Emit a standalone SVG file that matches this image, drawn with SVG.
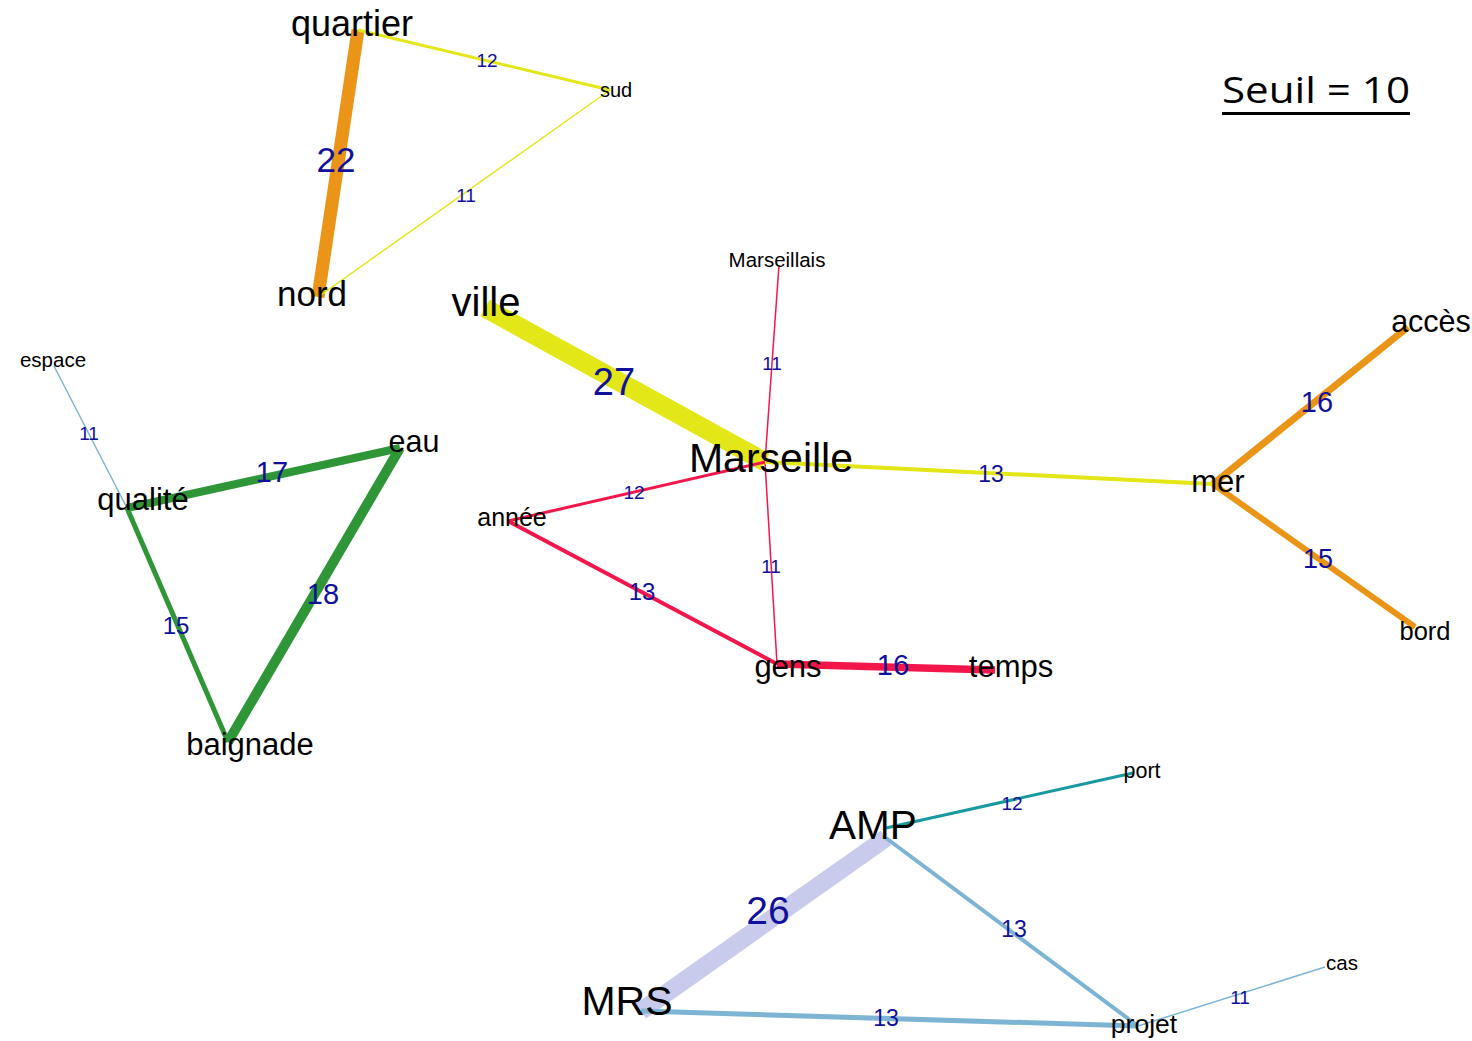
<svg xmlns="http://www.w3.org/2000/svg" width="1472" height="1041" viewBox="0 0 1472 1041">
<style>
.n{font-family:"Liberation Sans",Arial,sans-serif;fill:#000;text-anchor:middle}
.w{font-family:"Liberation Sans",Arial,sans-serif;fill:#10109A;text-anchor:middle}
.e{fill:none;stroke-linecap:butt}
.y{stroke:#E3E617}
.o{stroke:#EA9518}
.r{stroke:#F2164B}
.g{stroke:#2E9637}
.l{stroke:#C8CBEB}
.b{stroke:#7DB4D3}
.t{stroke:#18999F}
</style>
<rect width="1472" height="1041" fill="#fff"/>
<g id="connectors">
<line class="e o" x1="358" y1="30" x2="318" y2="297" stroke-width="13"/>
<line class="e y" x1="358" y1="30" x2="610" y2="90" stroke-width="3"/>
<line class="e y" x1="318" y1="297" x2="610" y2="90" stroke-width="1.5"/>
<line class="e y" x1="485" y1="308" x2="765" y2="462" stroke-width="19"/>
<line class="e r" x1="765" y1="462" x2="779" y2="265" stroke-width="1.5"/>
<line class="e r" x1="765" y1="462" x2="508" y2="521" stroke-width="3"/>
<line class="e r" x1="765" y1="462" x2="777" y2="664" stroke-width="1.5"/>
<line class="e r" x1="508" y1="521" x2="777" y2="664" stroke-width="4"/>
<line class="e r" x1="777" y1="664" x2="995" y2="670" stroke-width="7.5"/>
<line class="e y" x1="765" y1="462" x2="1213" y2="484" stroke-width="4"/>
<line class="e o" x1="1213" y1="484" x2="1408" y2="327" stroke-width="7"/>
<line class="e o" x1="1213" y1="484" x2="1415" y2="627" stroke-width="6"/>
<line class="e b" x1="54" y1="366" x2="127" y2="508" stroke-width="1.5"/>
<line class="e g" x1="127" y1="508" x2="400" y2="448" stroke-width="8"/>
<line class="e g" x1="400" y1="448" x2="228" y2="742" stroke-width="10"/>
<line class="e g" x1="127" y1="508" x2="228" y2="742" stroke-width="5"/>
<line class="e l" x1="886" y1="838" x2="641" y2="1011" stroke-width="18"/>
<line class="e t" x1="886" y1="828" x2="1133" y2="773" stroke-width="3"/>
<line class="e b" x1="886" y1="838" x2="1138" y2="1026" stroke-width="4"/>
<line class="e b" x1="641" y1="1011" x2="1138" y2="1026" stroke-width="5"/>
<line class="e b" x1="1138" y1="1026" x2="1325" y2="967" stroke-width="1.5"/>
</g>
<g id="edge-labels">
<text class="w" x="336" y="172" font-size="35">22</text>
<text class="w" x="487" y="67" font-size="19">12</text>
<text class="w" x="466" y="202" font-size="19">11</text>
<text class="w" x="614" y="395" font-size="38">27</text>
<text class="w" x="772" y="370" font-size="19">11</text>
<text class="w" x="634" y="499" font-size="19">12</text>
<text class="w" x="771" y="573" font-size="19">11</text>
<text class="w" x="642" y="600" font-size="24">13</text>
<text class="w" x="893" y="675" font-size="29">16</text>
<text class="w" x="991" y="482" font-size="23">13</text>
<text class="w" x="1317" y="412" font-size="29">16</text>
<text class="w" x="1318" y="568" font-size="27">15</text>
<text class="w" x="89" y="440" font-size="19">11</text>
<text class="w" x="272" y="482" font-size="29">17</text>
<text class="w" x="323" y="604" font-size="29">18</text>
<text class="w" x="176" y="634" font-size="24">15</text>
<text class="w" x="768" y="924" font-size="39">26</text>
<text class="w" x="1012" y="810" font-size="19">12</text>
<text class="w" x="1014" y="937" font-size="23">13</text>
<text class="w" x="886" y="1026" font-size="23">13</text>
<text class="w" x="1240" y="1004" font-size="19">11</text>
</g>
<g id="node-quartier"><text class="n" x="352" y="36" font-size="36">quartier</text></g>
<g id="node-nord"><text class="n" x="312" y="306" font-size="35">nord</text></g>
<g id="node-sud"><text class="n" x="616" y="97" font-size="20">sud</text></g>
<g id="node-ville"><text class="n" x="486" y="316" font-size="40">ville</text></g>
<g id="node-Marseille"><text class="n" x="771" y="472" font-size="41">Marseille</text></g>
<g id="node-Marseillais"><text class="n" x="777" y="267" font-size="20.5">Marseillais</text></g>
<g id="node-annee"><text class="n" x="512" y="526" font-size="25">année</text></g>
<g id="node-gens"><text class="n" x="788" y="677" font-size="31">gens</text></g>
<g id="node-temps"><text class="n" x="1011" y="677" font-size="31">temps</text></g>
<g id="node-mer"><text class="n" x="1218" y="492" font-size="31">mer</text></g>
<g id="node-acces"><text class="n" x="1431" y="332" font-size="30.5">accès</text></g>
<g id="node-bord"><text class="n" x="1425" y="640" font-size="25.5">bord</text></g>
<g id="node-espace"><text class="n" x="53" y="367" font-size="20.5">espace</text></g>
<g id="node-qualite"><text class="n" x="143" y="510" font-size="31">qualité</text></g>
<g id="node-eau"><text class="n" x="414" y="452" font-size="30.5">eau</text></g>
<g id="node-baignade"><text class="n" x="250" y="755" font-size="31">baignade</text></g>
<g id="node-AMP"><text class="n" x="873" y="839" font-size="40.5">AMP</text></g>
<g id="node-MRS"><text class="n" x="627" y="1015" font-size="41">MRS</text></g>
<g id="node-port"><text class="n" x="1142" y="778" font-size="21.5">port</text></g>
<g id="node-projet"><text class="n" x="1144" y="1033" font-size="26.5">projet</text></g>
<g id="node-cas"><text class="n" x="1342" y="970" font-size="20.5">cas</text></g>
<g id="title"><text x="1222" y="103" font-family="'Open Sans','Noto Sans',sans-serif" font-size="36" textLength="188" lengthAdjust="spacingAndGlyphs" fill="#000">Seuil = 10</text><rect x="1222" y="112" width="188" height="3" fill="#000"/></g>
</svg>
